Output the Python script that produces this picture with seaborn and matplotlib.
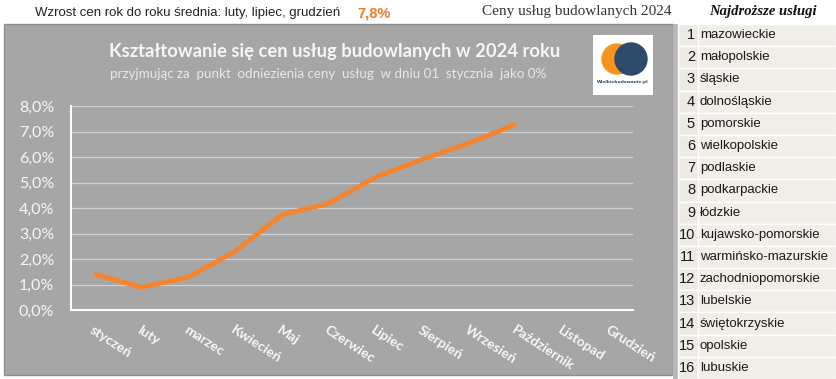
import numpy as np
import pandas as pd
import matplotlib
matplotlib.use('Agg')
import matplotlib.pyplot as plt
from matplotlib.patches import Rectangle, Circle
import seaborn as sns

# data
months = ['styczeń', 'luty', 'marzec', 'Kwiecień', 'Maj', 'Czerwiec', 'Lipiec',
          'Sierpień', 'Wrzesień', 'Październik', 'Listopad', 'Grudzień']
price_change = [1.41, 0.89, 1.28, 2.29, 3.73, 4.18, 5.20, 5.91, 6.54, 7.29]
y_ticks = [0, 1, 2, 3, 4, 5, 6, 7, 8]
ranking = ['mazowieckie', 'małopolskie', 'śląskie', 'dolnośląskie', 'pomorskie',
           'wielkopolskie', 'podlaskie', 'podkarpackie', 'łódzkie',
           'kujawsko-pomorskie', 'warmińsko-mazurskie', 'zachodniopomorskie',
           'lubelskie', 'świętokrzyskie', 'opolskie', 'lubuskie']
yoy_avg = '7,8%'

df = pd.DataFrame({'pos': np.arange(len(price_change)), 'change': price_change})

sns.set_style('white')
W, H = 836, 379
fig = plt.figure(figsize=(W / 100, H / 100), dpi=100)
fig.patch.set_facecolor('white')

def fx(px):
    return px / W

def fy(py):
    return 1 - py / H

# grey chart panel
fig.patches.append(Rectangle((fx(4), fy(375)), fx(669), 351 / H, transform=fig.transFigure,
                             facecolor='#A6A6A6', edgecolor='#8E8E8E', lw=1, zorder=-5))
fig.patches.append(Rectangle((fx(673), fy(379)), fx(5), 355 / H, transform=fig.transFigure,
                             facecolor='#B8B8B8', edgecolor='none', zorder=-5))

# ranking table
row_h = 355 / 16
for i, name in enumerate(ranking):
    top = 24 + i * row_h
    fig.patches.append(Rectangle((fx(678), fy(top + row_h)), fx(20), row_h / H,
                                 transform=fig.transFigure, facecolor='#ECEAE3',
                                 edgecolor='white', lw=1, zorder=-4))
    fig.patches.append(Rectangle((fx(698), fy(top + row_h)), fx(138), row_h / H,
                                 transform=fig.transFigure, facecolor='#F0EEE7',
                                 edgecolor='white', lw=1, zorder=-4))
    fig.text(fx(695), fy(top + row_h / 2), str(i + 1), ha='right', va='center',
             fontsize=10.5, family='Liberation Sans', color='#1a1a1a')
    fig.text(fx(700), fy(top + row_h / 2), name, ha='left', va='center',
             fontsize=9.5, family='Liberation Sans', color='#1a1a1a')

# header texts
fig.text(fx(340), fy(13), 'Wzrost cen rok do roku średnia: luty, lipiec, grudzień',
         ha='right', va='center', fontsize=9.5, family='Liberation Sans', color='#222222')
fig.text(fx(357), fy(13), yoy_avg, ha='left', va='center', fontsize=10.5,
         family='Liberation Sans', fontweight='bold', color='#F07A2A')
fig.text(fx(672), fy(12), 'Ceny usług budowlanych 2024', ha='right', va='center',
         fontsize=11, family='Liberation Serif', color='#333333')
fig.text(fx(763), fy(12), 'Najdroższe usługi', ha='center', va='center',
         fontsize=10.5, family='Liberation Serif', fontweight='bold', style='italic', color='#111111')

# chart title
fig.text(fx(335), fy(52), 'Kształtowanie się cen usług budowlanych w 2024 roku',
         ha='center', va='center', fontsize=13.2, family='Lato', fontweight='bold', color='#F6F6F6')
fig.text(fx(328), fy(74), 'przyjmując za  punkt  odniezienia ceny  usług  w dniu 01  stycznia  jako 0%',
         ha='center', va='center', fontsize=9.6, family='Lato', color='#E8E8E8')

# logo
logo = fig.add_axes([fx(593), fy(95), fx(60), 60 / H])
logo.set_zorder(6)
logo.set_facecolor('white')
logo.set_xlim(0, 60)
logo.set_ylim(0, 60)
logo.set_xticks([])
logo.set_yticks([])
for s in logo.spines.values():
    s.set_visible(False)
logo.add_patch(Circle((24, 36), 15, color='#F7941D'))
logo.add_patch(Circle((38, 36), 16, color='#2E4A6B'))
logo.text(30, 13, 'Wielkiebudowanie.pl', ha='center', va='center', fontsize=3.2,
          color='#2E4A6B', fontweight='bold')

# main axes
ax = fig.add_axes([fx(71), fy(310), fx(633 - 71), (310 - 106) / H])
ax.set_zorder(5)
ax.set_facecolor('none')
sns.lineplot(data=df, x='pos', y='change', ax=ax, color='#F5842C', lw=3.4,
             solid_capstyle='butt')
ax.set_xlim(-0.5, len(months) - 0.5)
ax.set_ylim(0, 8)
ax.set_yticks(y_ticks)
ax.set_yticklabels([f'{v:.1f}%'.replace('.', ',') for v in y_ticks],
                   fontsize=11.5, family='Lato', color='#F6F6F6')
ax.set_xticks(range(len(months)))
ax.set_xticklabels(months, rotation=-33, ha='left', va='top', rotation_mode='anchor',
                   fontsize=10, family='Lato', fontweight='bold', color='#F6F6F6')
ax.grid(axis='y', color='#CFCFCF', lw=0.9)
ax.set_axisbelow(True)
ax.set_xlabel('')
ax.set_ylabel('')
for side in ['top', 'right']:
    ax.spines[side].set_visible(False)
for side in ['left', 'bottom']:
    ax.spines[side].set_color('white')
    ax.spines[side].set_linewidth(1.5)
ax.tick_params(axis='both', direction='out', length=4, width=1, color='white')
ax.tick_params(axis='y', pad=8)
ax.tick_params(axis='x', pad=6)

fig.savefig('out.png', dpi=100)
